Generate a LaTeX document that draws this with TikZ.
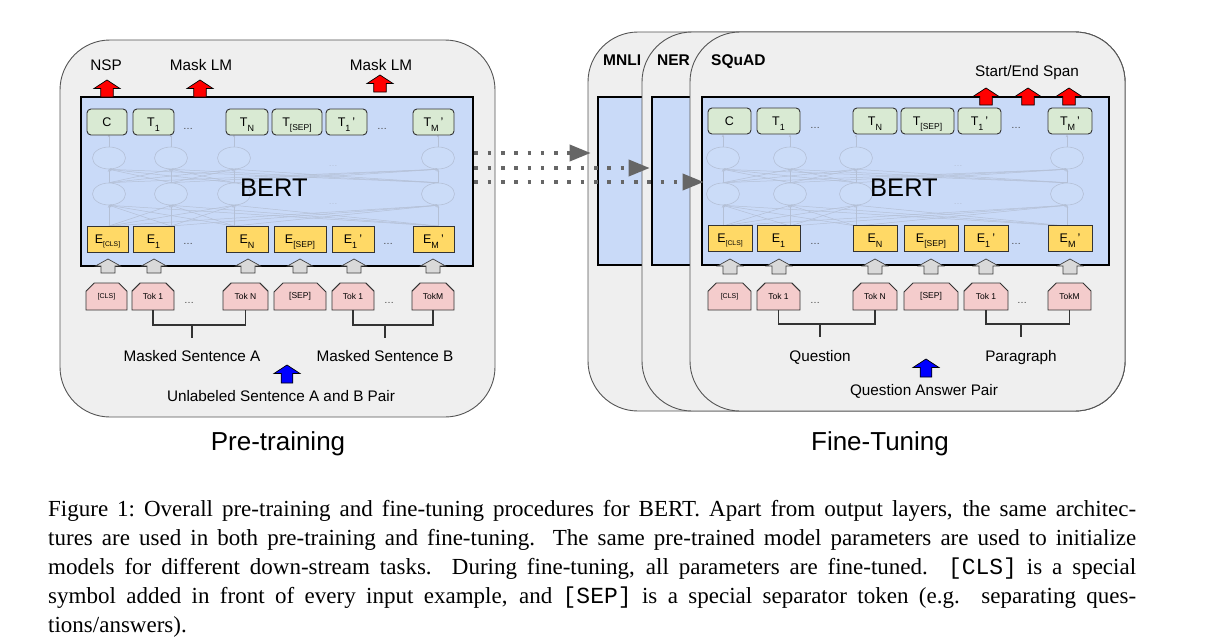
\documentclass[tikz,border=0pt]{standalone}
\usepackage{fontspec}
\setmainfont{Liberation Sans}
\newfontfamily\capserif{Liberation Serif}
\newfontfamily\capmono{Liberation Mono}
\usetikzlibrary{shapes.misc,shapes.geometric,arrows.meta}

\definecolor{panelbg}{HTML}{EFEFEF}
\definecolor{panelline}{HTML}{555555}
\definecolor{bertblue}{HTML}{C9DAF8}
\definecolor{tgreen}{HTML}{D9EAD3}
\definecolor{eyellow}{HTML}{FFD966}
\definecolor{tokpink}{HTML}{F4CCCC}
\definecolor{inarrow}{HTML}{D9D9D9}
\definecolor{netc}{RGB}{180,192,214}
\definecolor{netfill}{RGB}{203,220,248}
\definecolor{dotgray}{HTML}{666666}

\newcommand\lsub[1]{\raisebox{-4.5pt}{\fontsize{9}{9}\selectfont #1}}
\newcommand\lsubc[1]{\raisebox{-3pt}{\fontsize{6.8}{7}\selectfont #1}}
\newcommand\lsubs[1]{\raisebox{-4pt}{\fontsize{8.5}{9}\selectfont #1}}
\newcommand\blockup[7]{\draw[#1] (#2,#3) -- ({#2+#5},{#3+#7}) -- ({#2+#6},{#3+#7}) -- ({#2+#6},#4) -- ({#2-#6},#4) -- ({#2-#6},{#3+#7}) -- ({#2-#5},{#3+#7}) -- cycle;}
\newcommand\bertnet[6]{%
  \foreach \i/\xx in {1/#2,2/#3,3/#4,4/#5}{%
    \node[netell] (#1a\i) at (\xx,158) {};
    \node[netell] (#1b\i) at (\xx,194) {};
    \coordinate (#1c\i) at (\xx,226);
  }
  \foreach \i in {1,2,3,4}{%
    \foreach \j in {1,2,3,4}{%
      \draw[netline] (#1c\i) -- (#1b\j.south);
      \draw[netline] (#1b\i.north) -- (#1a\j.south);
    }
    \draw[netline] (#1a\i.north) -- ++(0,-12);
  }
  \node[netdots] (#1d1) at (#6,166) {…};
  \node[netdots] (#1d2) at (#6,204) {…};
}

\tikzset{
  panel/.style={draw=panelline, line width=0.9pt, fill=panelbg, rounded corners=50pt, inner sep=0pt},
  bertbox/.style={draw=black, line width=2.6pt, fill=bertblue, inner sep=0pt},
  tbox/.style={draw=black!80, line width=0.9pt, fill=tgreen, rounded corners=4pt, minimum height=26pt,
    inner sep=0pt, text height=9pt, text depth=0pt, font=\fontsize{12.5}{13}\selectfont},
  ebox/.style={draw=black!80, line width=0.9pt, fill=eyellow, minimum height=26pt,
    inner sep=0pt, text height=9pt, text depth=0pt, font=\fontsize{12.5}{13}\selectfont},
  tokbox/.style={chamfered rectangle, chamfered rectangle corners={north west,north east},
    chamfered rectangle xsep=5pt, chamfered rectangle ysep=5pt,
    draw=black!80, line width=0.9pt, fill=tokpink, minimum height=27pt,
    inner sep=0pt, font=\fontsize{8.5}{9}\selectfont},
  dotsl/.style={anchor=base, inner sep=0pt, text=black!75, font=\fontsize{10}{10}\selectfont},
  netell/.style={ellipse, draw=netc, fill=netfill, minimum width=33pt, minimum height=22pt, inner sep=0pt, line width=0.6pt},
  netline/.style={draw=netc, line width=0.5pt, -{Stealth[length=2.5pt,width=2.5pt]}},
  netdots/.style={text=netc, inner sep=0pt, font=\fontsize{9}{9}\selectfont},
  lbl/.style={anchor=base, inner sep=0pt, font=\fontsize{15.3}{18}\selectfont},
  tasklbl/.style={anchor=base west, inner sep=0pt, font=\bfseries\fontsize{15.5}{18}\selectfont},
  bigbert/.style={anchor=base, inner sep=0pt, font=\fontsize{25.5}{30}\selectfont},
  title/.style={anchor=base, inner sep=0pt, font=\fontsize{26}{30}\selectfont},
  redarr/.style={draw=black, line width=0.7pt, fill=red},
  grayarr/.style={draw=black!75, line width=0.7pt, fill=inarrow},
  bluearr/.style={draw=black, line width=0.7pt, fill=blue},
  bracket/.style={draw=black!80, line width=1.1pt},
  dotarrow/.style={draw=dotgray, line width=3.6pt, dash pattern=on 3.6pt off 9.7pt,
    -{Triangle[length=21pt,width=16pt]}},
  capline/.style={anchor=base west, inner sep=0pt, font=\capserif\fontsize{23}{29}\selectfont},
}

\begin{document}
\begin{tikzpicture}[x=1pt,y=-1pt]
\fill[white] (0,0) rectangle (1218,642);
\useasboundingbox (0,0) rectangle (1218,642);

% ================= LEFT: PRE-TRAINING =================
\node[panel, minimum width=435pt, minimum height=377pt] (Lpanel) at (277.5,228.5) {};
\node[bertbox, minimum width=392pt, minimum height=169pt] (Lbert) at (277,181.5) {};
\bertnet{Ln}{109}{171}{234}{438}{333}

\node[tbox, minimum width=40pt] (Lt1) at (107,122) {C};
\node[tbox, minimum width=41pt] (Lt2) at (153.5,122) {T\lsub{1}};
\node[tbox, minimum width=42pt] (Lt3) at (247,122) {T\lsub{N}};
\node[tbox, minimum width=50pt] (Lt4) at (297,122) {T\lsubs{[SEP]}};
\node[tbox, minimum width=41pt] (Lt5) at (346.5,122) {T\lsub{1}\,'};
\node[tbox, minimum width=41pt] (Lt6) at (433.5,122) {T\lsub{M}\,'};
\node[dotsl] (Ltd1) at (188,129) {…};
\node[dotsl] (Ltd2) at (382,129) {…};

\node[ebox, minimum width=41pt] (Le1) at (107.5,239) {E\lsubc{[CLS]}};
\node[ebox, minimum width=41pt] (Le2) at (153.5,239) {E\lsub{1}};
\node[ebox, minimum width=42pt] (Le3) at (247,239) {E\lsub{N}};
\node[ebox, minimum width=52pt] (Le4) at (300,239) {E\lsubs{[SEP]}};
\node[ebox, minimum width=42pt] (Le5) at (353,239) {E\lsub{1}\,'};
\node[ebox, minimum width=41pt] (Le6) at (433.5,239) {E\lsub{M}\,'};
\node[dotsl] (Led1) at (188,244) {…};
\node[dotsl] (Led2) at (388,244) {…};

\node[bigbert] (Lbl) at (274,196) {BERT};

\blockup{redarr}{107}{80}{97}{13}{6.3}{8.5}
\blockup{redarr}{200}{80}{97}{13}{6.3}{8.5}
\blockup{redarr}{380}{75}{92}{13}{6.3}{8.5}
\node[lbl] (Lnsp) at (106,70.5) {NSP};
\node[lbl] (Lmlm1) at (201,70.5) {Mask LM};
\node[lbl] (Lmlm2) at (381,70.5) {Mask LM};

\foreach \xx in {108,154,248,300,354,433}{\blockup{grayarr}{\xx}{259}{273}{12.5}{7}{7}}

\node[tokbox, minimum width=41pt] (Lk1) at (106.5,296.5) {\fontsize{7}{8}\selectfont[CLS]};
\node[tokbox, minimum width=42pt] (Lk2) at (153,296.5) {Tok 1};
\node[tokbox, minimum width=45pt] (Lk3) at (245.5,296.5) {Tok N};
\node[tokbox, minimum width=52pt] (Lk4) at (300,296.5) {[SEP]};
\node[tokbox, minimum width=42pt] (Lk5) at (353,296.5) {Tok 1};
\node[tokbox, minimum width=42pt] (Lk6) at (433,296.5) {TokM};
\node[dotsl] (Lkd1) at (189,303) {…};
\node[dotsl] (Lkd2) at (389,303) {…};

\coordinate (LqA) at (192,325);
\coordinate (LqB) at (385,325);
\draw[bracket] (Lk2.south) |- (LqA) -| (Lk3.south);
\draw[bracket] (LqA) -- ++(0,13);
\draw[bracket] (Lk5.south) |- (LqB) -| (Lk6.south);
\draw[bracket] (LqB) -- ++(0,13);

\node[lbl] (LsA) at (192,361.5) {Masked Sentence A};
\node[lbl] (LsB) at (385,361.5) {Masked Sentence B};
\blockup{bluearr}{287}{365}{383}{13}{5.8}{8.5}
\node[lbl] (Lpair) at (281,401.5) {Unlabeled Sentence A and B Pair};
\node[title] (Ltitle) at (278,450) {Pre-training};

% ================= RIGHT: FINE-TUNING =================
\node[panel, minimum width=537pt, minimum height=379pt] (Mpanel) at (856.5,221.5) {};
\node[bertbox, minimum width=511pt, minimum height=168pt] (Mbox) at (853.5,181) {};
\node[tasklbl] (Mlbl) at (603,65.5) {MNLI};
\node[panel, minimum width=483pt, minimum height=379pt] (Npanel) at (883.5,221.5) {};
\node[bertbox, minimum width=457pt, minimum height=168pt] (Nbox) at (880.5,181) {};
\node[tasklbl] (Nlbl) at (657,65.5) {NER};
\node[panel, minimum width=435pt, minimum height=379pt] (Spanel) at (907.5,221.5) {};
\node[bertbox, minimum width=407pt, minimum height=168pt] (Sbox) at (905.5,181) {};
\node[tasklbl] (Slbl) at (711,65.5) {SQuAD};

\bertnet{Rn}{723}{790}{856}{1067}{958}

\node[tbox, minimum width=43pt] (Rt1) at (729.5,121) {C};
\node[tbox, minimum width=43pt] (Rt2) at (778.5,121) {T\lsub{1}};
\node[tbox, minimum width=44pt] (Rt3) at (875,121) {T\lsub{N}};
\node[tbox, minimum width=53pt] (Rt4) at (927.5,121) {T\lsubs{[SEP]}};
\node[tbox, minimum width=43pt] (Rt5) at (979.5,121) {T\lsub{1}\,'};
\node[tbox, minimum width=44pt] (Rt6) at (1070,121) {T\lsub{M}\,'};
\node[dotsl] (Rtd1) at (815,128) {…};
\node[dotsl] (Rtd2) at (1016,128) {…};

\node[ebox, minimum width=44pt] (Re1) at (730,238) {E\lsubc{[CLS]}};
\node[ebox, minimum width=43pt] (Re2) at (778.5,238) {E\lsub{1}};
\node[ebox, minimum width=44pt] (Re3) at (875,238) {E\lsub{N}};
\node[ebox, minimum width=54pt] (Re4) at (931,238) {E\lsubs{[SEP]}};
\node[ebox, minimum width=44pt] (Re5) at (986,238) {E\lsub{1}\,'};
\node[ebox, minimum width=44pt] (Re6) at (1070,238) {E\lsub{M}\,'};
\node[dotsl] (Red1) at (815,244) {…};
\node[dotsl] (Red2) at (1016,244) {…};

\node[bigbert] (Rbl) at (904,196) {BERT};

\blockup{redarr}{986}{88}{105}{13}{6.3}{8.5}
\blockup{redarr}{1028}{88}{105}{13}{6.3}{8.5}
\blockup{redarr}{1069}{88}{105}{13}{6.3}{8.5}
\node[lbl] (Rspan) at (1027,76.5) {Start/End Span};

\foreach \xx in {730,779,875,931,986,1070}{\blockup{grayarr}{\xx}{259}{274}{12.5}{7}{7}}

\node[tokbox, minimum width=43pt] (Rk1) at (729.5,296.5) {\fontsize{7}{8}\selectfont[CLS]};
\node[tokbox, minimum width=43pt] (Rk2) at (778.5,296.5) {Tok 1};
\node[tokbox, minimum width=44pt] (Rk3) at (875,296.5) {Tok N};
\node[tokbox, minimum width=54pt] (Rk4) at (931,296.5) {[SEP]};
\node[tokbox, minimum width=44pt] (Rk5) at (986,296.5) {Tok 1};
\node[tokbox, minimum width=43pt] (Rk6) at (1069.5,296.5) {TokM};
\node[dotsl] (Rkd1) at (815,303) {…};
\node[dotsl] (Rkd2) at (1022,303) {…};

\coordinate (RqA) at (820,324);
\coordinate (RqB) at (1021,324);
\draw[bracket] (Rk2.south) |- (RqA) -| (Rk3.south);
\draw[bracket] (RqA) -- ++(0,13);
\draw[bracket] (Rk5.south) |- (RqB) -| (Rk6.south);
\draw[bracket] (RqB) -- ++(0,13);

\node[lbl] (RsA) at (820,361) {Question};
\node[lbl] (RsB) at (1021,361) {Paragraph};
\blockup{bluearr}{926}{359}{377}{13}{5.8}{8.5}
\node[lbl] (Rpair) at (924,395.5) {Question Answer Pair};
\node[title] (Rtitle) at (880,450) {Fine-Tuning};

% ================= DOTTED TRANSFER ARROWS =================
\coordinate (d1) at (474,153);
\coordinate (d2) at (474,168);
\coordinate (d3) at (474,182);
\draw[dotarrow, shorten >=6pt] (Lbert.east |- d1) -- (Mbox.west |- d1);
\draw[dotarrow, shorten >=1pt] (Lbert.east |- d2) -- (Nbox.west |- d2);
\draw[dotarrow, shorten >=-3pt] (Lbert.east |- d3) -- (Sbox.west |- d3);

% ================= CAPTION =================
\node[capline] (cap1) at (48,516) {\makebox[1088pt][s]{Figure 1:\ Overall pre-training and fine-tuning procedures for BERT. Apart from output layers, the same architec-}};
\node[capline] (cap2) at (48,545) {\makebox[1088pt][s]{tures are used in both pre-training and fine-tuning. The same pre-trained model parameters are used to initialize}};
\node[capline] (cap3) at (48,574) {\makebox[1088pt][s]{models for different down-stream tasks. During fine-tuning, all parameters are fine-tuned. {\capmono [CLS]} is a special}};
\node[capline] (cap4) at (48,603) {\makebox[1088pt][s]{symbol added in front of every input example, and {\capmono [SEP]} is a special separator token (e.g. separating ques-}};
\node[capline] (cap5) at (48,632) {tions/answers).};
\end{tikzpicture}
\end{document}
